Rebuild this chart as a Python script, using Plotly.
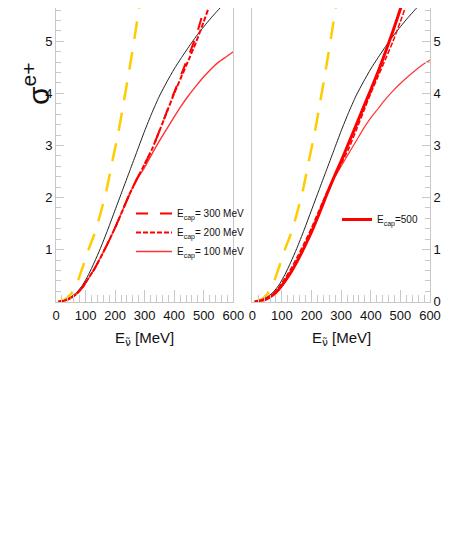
import plotly.graph_objects as go

# ---------------- data ----------------
x_yel = [8, 30, 50, 70, 90, 110, 130, 150, 170, 190, 210, 230, 250, 270, 290]
y_yel = [0, 0.04, 0.14, 0.34, 0.66, 1.0, 1.3, 1.68, 2.12, 2.68, 3.22, 3.86, 4.52, 5.22, 5.95]

x_blk = [8, 30, 50, 70, 90, 110, 130, 150, 175, 200, 225, 250, 275, 300, 325, 350, 375, 400,
         425, 450, 475, 500, 525, 550, 575, 600]
y_blk = [0, 0.03, 0.09, 0.18, 0.32, 0.52, 0.76, 1.02, 1.38, 1.76, 2.14, 2.52, 2.9, 3.28, 3.63,
         3.95, 4.22, 4.47, 4.69, 4.9, 5.1, 5.28, 5.45, 5.61, 5.76, 5.9]

x_red = [8, 30, 50, 70, 90, 110, 130, 150, 175, 200, 225, 250, 275, 300, 325, 350, 375, 400,
         425, 450, 475, 500, 525, 550, 575, 600]
# left panel
y_cap300 = [0, 0.02, 0.07, 0.15, 0.28, 0.45, 0.63, 0.84, 1.12, 1.42, 1.75, 2.08, 2.37, 2.64,
            2.93, 3.28, 3.65, 4.02, 4.38, 4.74, 5.12, 5.6, 6.1, None, None, None]
y_cap200 = [0, 0.02, 0.07, 0.15, 0.28, 0.45, 0.63, 0.84, 1.12, 1.42, 1.75, 2.08, 2.37, 2.64,
            2.93, 3.28, 3.64, 4.0, 4.33, 4.66, 5.0, 5.38, 5.78, 6.2, None, None]
y_cap100 = [0, 0.02, 0.07, 0.15, 0.28, 0.45, 0.63, 0.84, 1.12, 1.42, 1.75, 2.08, 2.36, 2.58,
            2.84, 3.09, 3.32, 3.55, 3.77, 3.97, 4.15, 4.32, 4.47, 4.6, 4.7, 4.8]
# right panel
y_cap500 = [0, 0.02, 0.06, 0.13, 0.24, 0.39, 0.56, 0.76, 1.04, 1.34, 1.68, 2.04, 2.38, 2.7,
            3.04, 3.38, 3.73, 4.07, 4.42, 4.8, 5.2, 5.62, 6.05, None, None, None]
y_cap100_r = [0, 0.02, 0.06, 0.13, 0.24, 0.39, 0.56, 0.76, 1.04, 1.34, 1.68, 2.04, 2.36, 2.6,
              2.84, 3.08, 3.32, 3.53, 3.71, 3.89, 4.05, 4.19, 4.32, 4.44, 4.55, 4.64]

x_ticks = [0, 100, 200, 300, 400, 500, 600]
y_ticks_left = [1, 2, 3, 4, 5]
y_ticks_right = [0, 1, 2, 3, 4, 5]

legend_left = ["E<sub>cap</sub>= 300 MeV", "E<sub>cap</sub>= 200 MeV", "E<sub>cap</sub>= 100 MeV"]
legend_right = "E<sub>cap</sub>=500"
x_title = "E<sub><span style='font-family:DejaVu Sans'>ν̃</span></sub> [MeV]"
y_title = "σ<sup>e+</sup>"

# ---------------- styling ----------------
OFF = 8  # page body margin around the plot div
W, H = 469 - OFF, 545 - OFF
FONT = "Liberation Sans, Arial, Helvetica, sans-serif"
YEL = "#FFCC00"
RED = "#FF0000"
THIN_RED = "#FF3333"
GRID = "#c8c8c8"


def px(xp):
    return (xp - OFF) / W


def py(yp):
    return 1 - (yp - OFF) / H


ydom = [py(301.7), 1]
x1dom = [px(56), px(233.3)]
x2dom = [px(252.3), px(430)]

fig = go.Figure()


def add(x, y, xa, ya, color, width, dash=None, name=None, legend=None, show=False):
    fig.add_trace(go.Scatter(
        x=x, y=y, mode="lines", xaxis=xa, yaxis=ya,
        line=dict(color=color, width=width, dash=dash, shape="spline", smoothing=0.6),
        name=name, showlegend=show, legend=legend, connectgaps=False,
        hoverinfo="skip"))


# left panel
add(x_yel, y_yel, "x", "y", YEL, 2.5, dash="18px,13px")
add(x_blk, y_blk, "x", "y", "#222222", 1)
add(x_red, y_cap100, "x", "y", THIN_RED, 1.4, name=legend_left[2], legend="legend", show=True)
add(x_red, y_cap200, "x", "y", RED, 2, dash="5px,2px", name=legend_left[1], legend="legend", show=True)
add(x_red, y_cap300, "x", "y", RED, 2, dash="12px,12px", name=legend_left[0], legend="legend", show=True)

# right panel
add(x_yel, y_yel, "x2", "y2", YEL, 2.5, dash="18px,13px")
add(x_blk, y_blk, "x2", "y2", "#222222", 1)
add(x_red, y_cap100_r, "x2", "y2", THIN_RED, 1.2)
add(x_red, y_cap200, "x2", "y2", RED, 1.5, dash="5px,2px")
add(x_red, y_cap500, "x2", "y2", RED, 3, name=legend_right, legend="legend2", show=True)

axis_common = dict(
    showgrid=False, zeroline=False, showline=True, linecolor=GRID, linewidth=1,
    ticks="inside", tickcolor=GRID, tickwidth=1, automargin=False,
    tickfont=dict(family=FONT, size=13, color="#111111"),
)
xminor = dict(dtick=20, ticklen=7, ticks="inside", tickcolor=GRID)
yminor = dict(dtick=0.2, ticklen=5, ticks="inside", tickcolor=GRID)

fig.update_layout(
    width=W, height=H, margin=dict(l=0, r=0, t=0, b=0, autoexpand=False),
    paper_bgcolor="white", plot_bgcolor="white",
    font=dict(family=FONT, color="#111111"),
    xaxis=dict(domain=x1dom, range=[0, 600], anchor="y", tickvals=x_ticks, ticklen=12,
               ticklabelstandoff=2, minor=xminor, **axis_common),
    yaxis=dict(domain=ydom, range=[0, 5.64], anchor="x", tickvals=y_ticks_left, ticklen=8,
               mirror=True, minor=yminor, **axis_common),
    xaxis2=dict(domain=x2dom, range=[0, 600], anchor="y2", tickvals=x_ticks, ticklen=12,
                ticklabelstandoff=2, minor=xminor, **axis_common),
    yaxis2=dict(domain=ydom, range=[0, 5.64], anchor="x2", side="right", tickvals=y_ticks_right,
                ticklen=8, mirror=True, minor=yminor, **axis_common),
    legend=dict(x=px(131), y=py(199), xanchor="left", yanchor="top", bgcolor="rgba(0,0,0,0)",
                font=dict(family=FONT, size=10, color="#111111"), traceorder="reversed",
                tracegroupgap=0, itemwidth=36),
    legend2=dict(x=px(337), y=py(205), xanchor="left", yanchor="top", bgcolor="rgba(0,0,0,0)",
                 font=dict(family=FONT, size=10, color="#111111"), itemwidth=30),
    showlegend=True,
)

# axis titles
for cx in [(x1dom[0] + x1dom[1]) / 2, (x2dom[0] + x2dom[1]) / 2]:
    fig.add_annotation(text=x_title, x=cx, y=py(338), xref="paper", yref="paper",
                       showarrow=False, font=dict(family=FONT, size=15, color="#111111"),
                       xanchor="center", yanchor="middle")
fig.add_annotation(text=y_title, x=px(36), y=py(84), xref="paper", yref="paper",
                   showarrow=False, textangle=-90, font=dict(family=FONT, size=30, color="#111111"),
                   xanchor="center", yanchor="middle")

fig.write_html("out.html")
